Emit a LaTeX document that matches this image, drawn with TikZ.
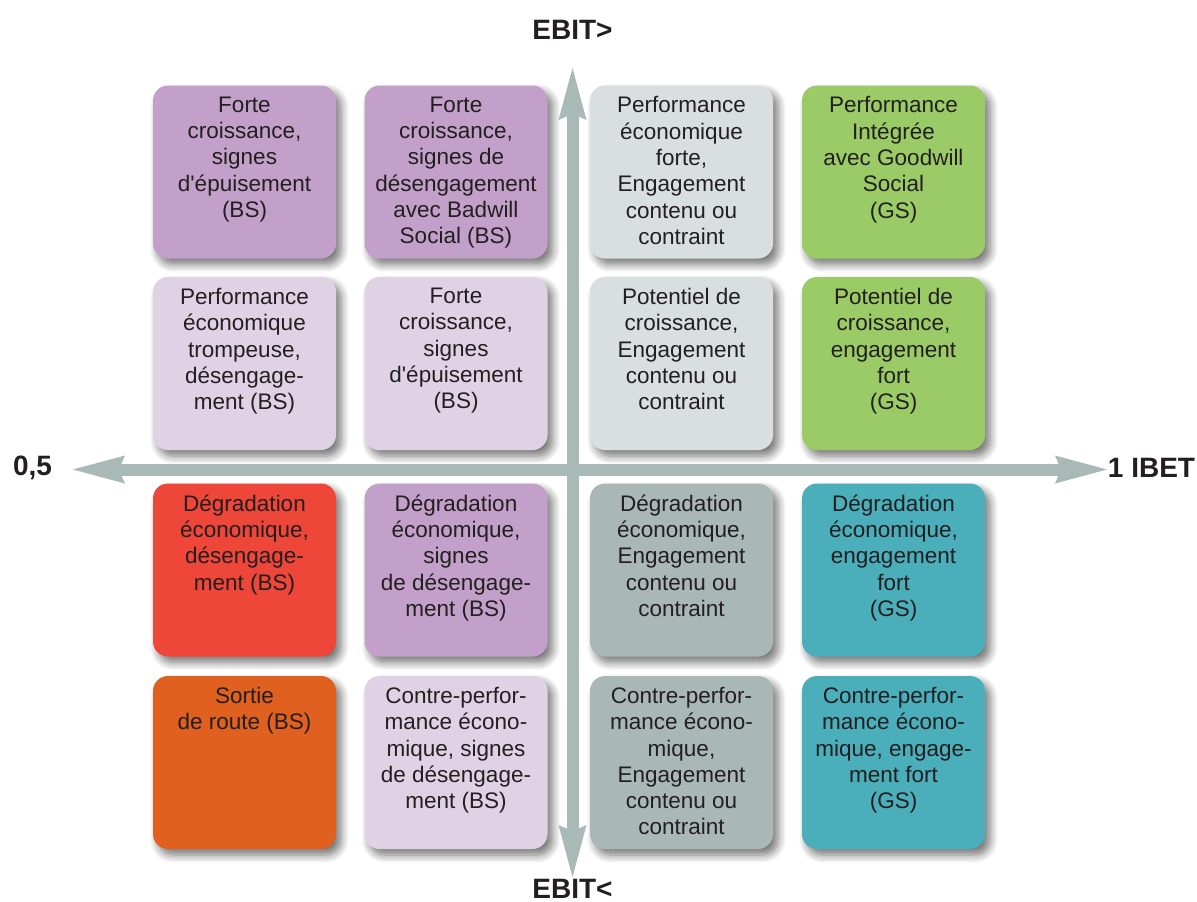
\documentclass[tikz,border=0pt]{standalone}
\usepackage{fontspec}
\setmainfont{Liberation Sans}
\usetikzlibrary{arrows.meta,shadows.blur}
\definecolor{cpurple}{HTML}{C3A0C9}
\definecolor{clav}{HTML}{E0D2E5}
\definecolor{clgray}{HTML}{D8DFDE}
\definecolor{cgreen}{HTML}{9BCB66}
\definecolor{cred}{HTML}{EE4638}
\definecolor{corange}{HTML}{DF601F}
\definecolor{cgray}{HTML}{A9B8B5}
\definecolor{cteal}{HTML}{4AAFBA}
\definecolor{axiscol}{HTML}{A8B9B6}
\definecolor{textdark}{HTML}{231F20}
\tikzset{
  cell/.style={rounded corners=15pt, minimum width=183pt, minimum height=173pt,
    inner sep=0pt, outer sep=0pt,
    blur shadow={shadow xshift=5pt, shadow yshift=-6pt, shadow blur radius=8pt,
      shadow blur steps=8, shadow opacity=55}},
  celltext/.style={anchor=north, align=center, inner sep=0pt,
    font=\fontsize{22.5}{26.3}\selectfont, text=textdark},
  axisline/.style={line width=12pt, draw=axiscol,
    {Stealth[length=52pt,width=28pt,inset=6pt,line width=0pt]}-{Stealth[length=52pt,width=28pt,inset=6pt,line width=0pt]}},
  axislabel/.style={font=\bfseries\fontsize{28}{30}\selectfont, text=textdark, inner sep=0pt}
}
\begin{document}
\begin{tikzpicture}[x=1pt,y=-1pt]
\useasboundingbox (0,0) rectangle (1197,902);
% boxes
\node[cell, fill=cpurple] (b11) at (244.5,172) {};
\node[cell, fill=cpurple] (b12) at (456,172) {};
\node[cell, fill=clgray]  (b13) at (681.5,172) {};
\node[cell, fill=cgreen]  (b14) at (893.5,172) {};
\node[cell, fill=clav]    (b21) at (244.5,363.5) {};
\node[cell, fill=clav]    (b22) at (456,363.5) {};
\node[cell, fill=clgray]  (b23) at (681.5,363.5) {};
\node[cell, fill=cgreen]  (b24) at (893.5,363.5) {};
\node[cell, fill=cred]    (b31) at (244.5,570) {};
\node[cell, fill=cpurple] (b32) at (456,570) {};
\node[cell, fill=cgray]   (b33) at (681.5,570) {};
\node[cell, fill=cteal]   (b34) at (893.5,570) {};
\node[cell, fill=corange] (b41) at (244.5,762.5) {};
\node[cell, fill=clav]    (b42) at (456,762.5) {};
\node[cell, fill=cgray]   (b43) at (681.5,762.5) {};
\node[cell, fill=cteal]   (b44) at (893.5,762.5) {};
% texts
\node[celltext] (t11) at ([yshift=-11pt]b11.north) {Forte\\croissance,\\signes\\d\textquotesingle épuisement\\(BS)};
\node[celltext] (t12) at ([yshift=-11pt]b12.north) {Forte\\croissance,\\signes de\\désengagement\\avec Badwill\\Social (BS)};
\node[celltext] (t13) at ([yshift=-11pt]b13.north) {Performance\\économique\\forte,\\Engagement\\contenu ou\\contraint};
\node[celltext] (t14) at ([yshift=-11pt]b14.north) {Performance\\Intégrée\\avec Goodwill\\Social\\(GS)};
\node[celltext] (t21) at ([yshift=-11pt]b21.north) {Performance\\économique\\trompeuse,\\désengage-\\ment (BS)};
\node[celltext] (t22) at ([yshift=-11pt]b22.north) {Forte\\croissance,\\signes\\d\textquotesingle épuisement\\(BS)};
\node[celltext] (t23) at ([yshift=-11pt]b23.north) {Potentiel de\\croissance,\\Engagement\\contenu ou\\contraint};
\node[celltext] (t24) at ([yshift=-11pt]b24.north) {Potentiel de\\croissance,\\engagement\\fort\\(GS)};
\node[celltext] (t31) at ([yshift=-11pt]b31.north) {Dégradation\\économique,\\désengage-\\ment (BS)};
\node[celltext] (t32) at ([yshift=-11pt]b32.north) {Dégradation\\économique,\\signes\\de désengage-\\ment (BS)};
\node[celltext] (t33) at ([yshift=-11pt]b33.north) {Dégradation\\économique,\\Engagement\\contenu ou\\contraint};
\node[celltext] (t34) at ([yshift=-11pt]b34.north) {Dégradation\\économique,\\engagement\\fort\\(GS)};
\node[celltext] (t41) at ([yshift=-11pt]b41.north) {Sortie\\de route (BS)};
\node[celltext] (t42) at ([yshift=-11pt]b42.north) {Contre-perfor-\\mance écono-\\mique, signes\\de désengage-\\ment (BS)};
\node[celltext] (t43) at ([yshift=-11pt]b43.north) {Contre-perfor-\\mance écono-\\mique,\\Engagement\\contenu ou\\contraint};
\node[celltext] (t44) at ([yshift=-11pt]b44.north) {Contre-perfor-\\mance écono-\\mique, engage-\\ment fort\\(GS)};
% axes
\coordinate (ytop) at (572.5,68);
\coordinate (ybot) at (572.5,877);
\coordinate (xleft) at (73,469.5);
\coordinate (xright) at (1107,469.5);
\draw[axisline] (ybot) -- (ytop);
\draw[axisline] (xleft) -- (xright);
% labels
\node[axislabel, anchor=base] (lt) at (572.5,39.5) {EBIT>};
\node[axislabel, anchor=base] (lb) at (572.5,898) {EBIT<};
\node[axislabel, anchor=base] (ll) at (32.5,475) {0,5};
\node[axislabel, anchor=base] (lr) at (1151.5,477) {1 IBET};
\end{tikzpicture}
\end{document}
